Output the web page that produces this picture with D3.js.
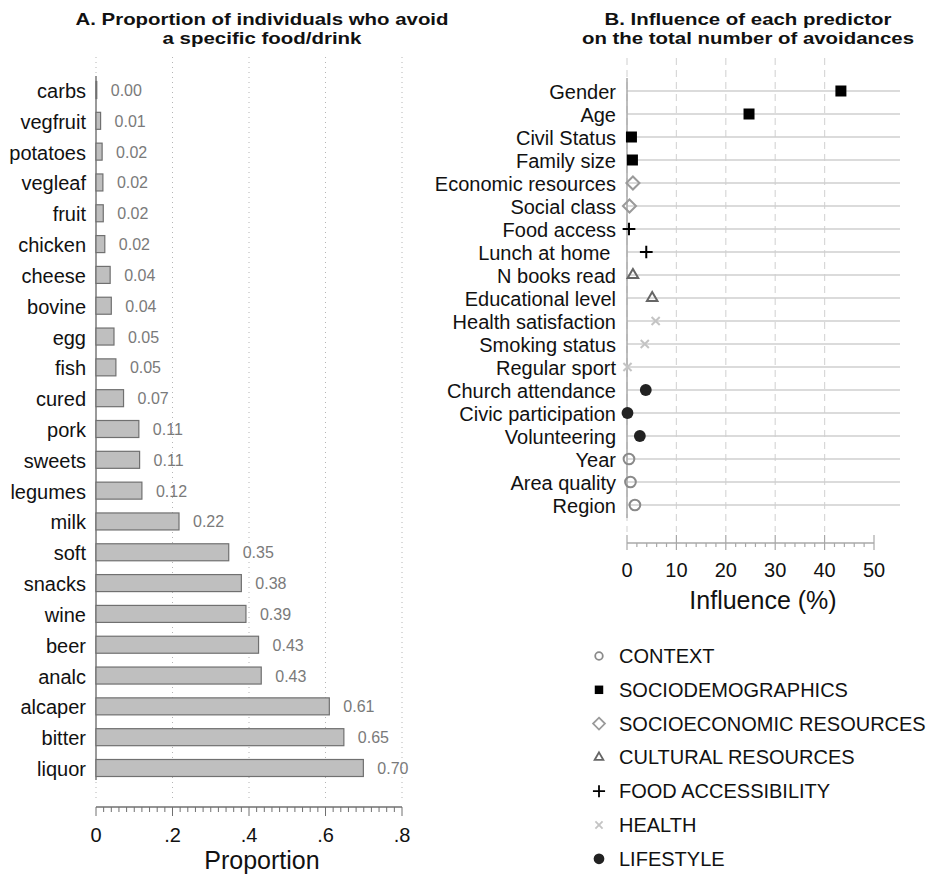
<!DOCTYPE html>
<html lang="en">
<head>
<meta charset="UTF-8">
<script src="https://d3js.org/d3.v7.min.js"></script>
<style>
  body { margin: 0; background: white; }
  text { font-family: "Liberation Sans", Arial, sans-serif; }
</style>
</head>
<body>
<div id="chart"></div>
<script>
var foods = ["carbs","vegfruit","potatoes","vegleaf","fruit","chicken","cheese","bovine","egg","fish","cured","pork","sweets","legumes","milk","soft","snacks","wine","beer","analc","alcaper","bitter","liquor"];
var foodValues = [0.002,0.012,0.016,0.018,0.019,0.023,0.037,0.040,0.047,0.052,0.072,0.112,0.114,0.120,0.217,0.347,0.380,0.392,0.425,0.432,0.610,0.648,0.699];
var foodLabels = ["0.00","0.01","0.02","0.02","0.02","0.02","0.04","0.04","0.05","0.05","0.07","0.11","0.11","0.12","0.22","0.35","0.38","0.39","0.43","0.43","0.61","0.65","0.70"];
var propTicks = [0, 0.2, 0.4, 0.6, 0.8];
var propTickLabels = ["0", ".2", ".4", ".6", ".8"];

var predictors = ["Gender","Age","Civil Status","Family size","Economic resources","Social class","Food access","Lunch at home\u00a0","N books read","Educational level","Health satisfaction","Smoking status","Regular sport","Church attendance","Civic participation","Volunteering","Year","Area quality","Region"];
var influence = [43.3,24.7,0.9,1.1,1.2,0.5,0.4,3.9,1.2,5.1,5.8,3.6,0.1,3.8,0.1,2.6,0.4,0.7,1.6];
var groupOf = ["SOCIODEMOGRAPHICS","SOCIODEMOGRAPHICS","SOCIODEMOGRAPHICS","SOCIODEMOGRAPHICS","SOCIOECONOMIC RESOURCES","SOCIOECONOMIC RESOURCES","FOOD ACCESSIBILITY","FOOD ACCESSIBILITY","CULTURAL RESOURCES","CULTURAL RESOURCES","HEALTH","HEALTH","HEALTH","LIFESTYLE","LIFESTYLE","LIFESTYLE","CONTEXT","CONTEXT","CONTEXT"];
var groups = ["CONTEXT","SOCIODEMOGRAPHICS","SOCIOECONOMIC RESOURCES","CULTURAL RESOURCES","FOOD ACCESSIBILITY","HEALTH","LIFESTYLE"];
var inflTicks = [0, 10, 20, 30, 40, 50];

var svg = d3.select("#chart").append("svg")
    .attr("width", 939)
    .attr("height", 877);

// titles, stretched to the widths seen in the picture
function title(x, y, w, txt) {
    svg.append("text").attr("x", x).attr("y", y).attr("text-anchor", "middle")
        .attr("font-size", 17).attr("font-weight", "bold").attr("fill", "#111")
        .attr("textLength", w).attr("lengthAdjust", "spacingAndGlyphs")
        .text(txt);
}

// ---------- panel A ----------
var xA = d3.scaleLinear().domain([0, 0.8]).range([96, 402]);
var yA = d3.scalePoint().domain(foods).range([90, 768]);

var gA = svg.append("g");

title(262, 25, 373, "A. Proportion of individuals who avoid");
title(262, 44, 199, "a specific food/drink");

// dotted grid
gA.selectAll(".gridA").data(propTicks).enter().append("line")
    .attr("x1", function(d){ return xA(d); })
    .attr("x2", function(d){ return xA(d); })
    .attr("y1", 57).attr("y2", 800)
    .attr("stroke", "#b5b5b5").attr("stroke-width", 1)
    .attr("stroke-dasharray", "1,4");

// y axis line
gA.append("line").attr("x1", 96).attr("x2", 96).attr("y1", 76).attr("y2", 780)
    .attr("stroke", "#9a9a9a").attr("stroke-width", 2);

gA.selectAll(".bar").data(foods).enter().append("rect")
    .attr("x", xA(0))
    .attr("y", function(d){ return yA(d) - 8.5; })
    .attr("width", function(d, i){ return xA(foodValues[i]) - xA(0); })
    .attr("height", 17)
    .attr("fill", "#bfbfbf").attr("stroke", "#707070").attr("stroke-width", 1.2);

gA.selectAll(".vlab").data(foods).enter().append("text")
    .attr("x", function(d, i){ return xA(foodValues[i]) + 14; })
    .attr("y", function(d){ return yA(d) + 6; })
    .attr("font-size", 16).attr("fill", "#7a7a7a")
    .text(function(d, i){ return foodLabels[i]; });

gA.selectAll(".flab").data(foods).enter().append("text")
    .attr("x", 86)
    .attr("y", function(d){ return yA(d) + 8; })
    .attr("text-anchor", "end")
    .attr("font-size", 20).attr("fill", "#111")
    .text(function(d){ return d; });

// x axis
var axA = gA.append("g").attr("transform", "translate(0,807)");
axA.append("line").attr("x1", xA(0)).attr("x2", xA(0.8))
    .attr("stroke", "#707070").attr("stroke-width", 1.5);
axA.selectAll(".mt").data(d3.range(0, 41).map(function(i){ return i * 0.02; })).enter().append("line")
    .attr("x1", function(d){ return xA(d); }).attr("x2", function(d){ return xA(d); })
    .attr("y1", 0).attr("y2", function(d, i){ return i % 10 === 0 ? 9 : 5; })
    .attr("stroke", "#707070").attr("stroke-width", 1);
axA.selectAll(".tl").data(propTicks).enter().append("text")
    .attr("x", function(d){ return xA(d); }).attr("y", 35)
    .attr("text-anchor", "middle").attr("font-size", 20).attr("fill", "#111")
    .text(function(d, i){ return propTickLabels[i]; });
gA.append("text").attr("x", 262).attr("y", 869).attr("text-anchor", "middle")
    .attr("font-size", 25).attr("fill", "#111").text("Proportion");

// ---------- panel B ----------
var xB = d3.scaleLinear().domain([0, 50]).range([627, 874]);
var yB = d3.scalePoint().domain(predictors).range([91, 505]);

var gB = svg.append("g");

title(748, 25, 287, "B. Influence of each predictor");
title(748, 44, 332, "on the total number of avoidances");

gB.selectAll(".vg").data(inflTicks.slice(0, 5)).enter().append("line")
    .attr("x1", function(d){ return xB(d); }).attr("x2", function(d){ return xB(d); })
    .attr("y1", 58).attr("y2", 532)
    .attr("stroke", "#d8d8d8").attr("stroke-width", 1.2)
    .attr("stroke-dasharray", "7,5");

gB.selectAll(".hg").data(predictors).enter().append("line")
    .attr("x1", xB(0)).attr("x2", 900)
    .attr("y1", function(d){ return yB(d); }).attr("y2", function(d){ return yB(d); })
    .attr("stroke", "#cfcfcf").attr("stroke-width", 1.5);

gB.append("line").attr("x1", xB(0)).attr("x2", xB(0)).attr("y1", 78).attr("y2", 518)
    .attr("stroke", "#a8a8a8").attr("stroke-width", 1.5);

gB.selectAll(".plab").data(predictors).enter().append("text")
    .attr("x", 616)
    .attr("y", function(d){ return yB(d) + 7.5; })
    .attr("text-anchor", "end")
    .attr("font-size", 20).attr("fill", "#111")
    .text(function(d){ return d; });

var styles = {
    "CONTEXT": { type: d3.symbolCircle, size: 90, fill: "none", stroke: "#8a8a8a", sw: 2, legSize: 45 },
    "SOCIODEMOGRAPHICS": { type: d3.symbolSquare, size: 121, fill: "#000", stroke: "none", sw: 0, legSize: 72 },
    "SOCIOECONOMIC RESOURCES": { type: d3.symbolDiamond2, size: 110, fill: "none", stroke: "#9a9a9a", sw: 2, legSize: 90 },
    "CULTURAL RESOURCES": { type: d3.symbolTriangle2, size: 80, fill: "none", stroke: "#666", sw: 2, legSize: 55 },
    "FOOD ACCESSIBILITY": { type: d3.symbolPlus, size: 55, fill: "none", stroke: "#000", sw: 2, legSize: 50 },
    "HEALTH": { type: d3.symbolTimes, size: 45, fill: "none", stroke: "#c4c4c4", sw: 2, legSize: 35 },
    "LIFESTYLE": { type: d3.symbolCircle, size: 110, fill: "#222", stroke: "none", sw: 0, legSize: 90 }
};

gB.selectAll(".pt").data(predictors).enter().append("path")
    .attr("transform", function(d, i){ return "translate(" + xB(influence[i]) + "," + yB(d) + ")"; })
    .attr("d", function(d, i){ var s = styles[groupOf[i]]; return d3.symbol().type(s.type).size(s.size)(); })
    .attr("fill", function(d, i){ return styles[groupOf[i]].fill; })
    .attr("stroke", function(d, i){ return styles[groupOf[i]].stroke; })
    .attr("stroke-width", function(d, i){ return styles[groupOf[i]].sw; });

var axB = gB.append("g").attr("transform", "translate(0,543)");
axB.append("line").attr("x1", xB(0)).attr("x2", xB(50))
    .attr("stroke", "#a8a8a8").attr("stroke-width", 1.5);
axB.selectAll(".mt").data(d3.range(0, 26).map(function(i){ return i * 2; })).enter().append("line")
    .attr("x1", function(d){ return xB(d); }).attr("x2", function(d){ return xB(d); })
    .attr("y1", function(d, i){ return i % 5 === 0 ? -8 : 0; })
    .attr("y2", function(d, i){ return i % 5 === 0 ? 7 : 4; })
    .attr("stroke", "#a8a8a8").attr("stroke-width", 1.2);
axB.selectAll(".tl").data(inflTicks).enter().append("text")
    .attr("x", function(d){ return xB(d); }).attr("y", 34)
    .attr("text-anchor", "middle").attr("font-size", 20).attr("fill", "#111")
    .text(function(d){ return d; });
gB.append("text").attr("x", 763).attr("y", 609).attr("text-anchor", "middle")
    .attr("font-size", 25).attr("fill", "#111").text("Influence (%)");

// legend
var leg = gB.selectAll(".leg").data(groups).enter().append("g")
    .attr("transform", function(d, i){ return "translate(599," + (656 + i * 33.8) + ")"; });
leg.append("path")
    .attr("d", function(d){ var s = styles[d]; return d3.symbol().type(s.type).size(s.legSize)(); })
    .attr("fill", function(d){ return styles[d].fill; })
    .attr("stroke", function(d){ return styles[d].stroke; })
    .attr("stroke-width", function(d){ return styles[d].sw ? 1.8 : 0; });
leg.append("text").attr("x", 20).attr("y", 7)
    .attr("font-size", 20).attr("fill", "#111")
    .text(function(d){ return d; });
</script>
</body>
</html>
